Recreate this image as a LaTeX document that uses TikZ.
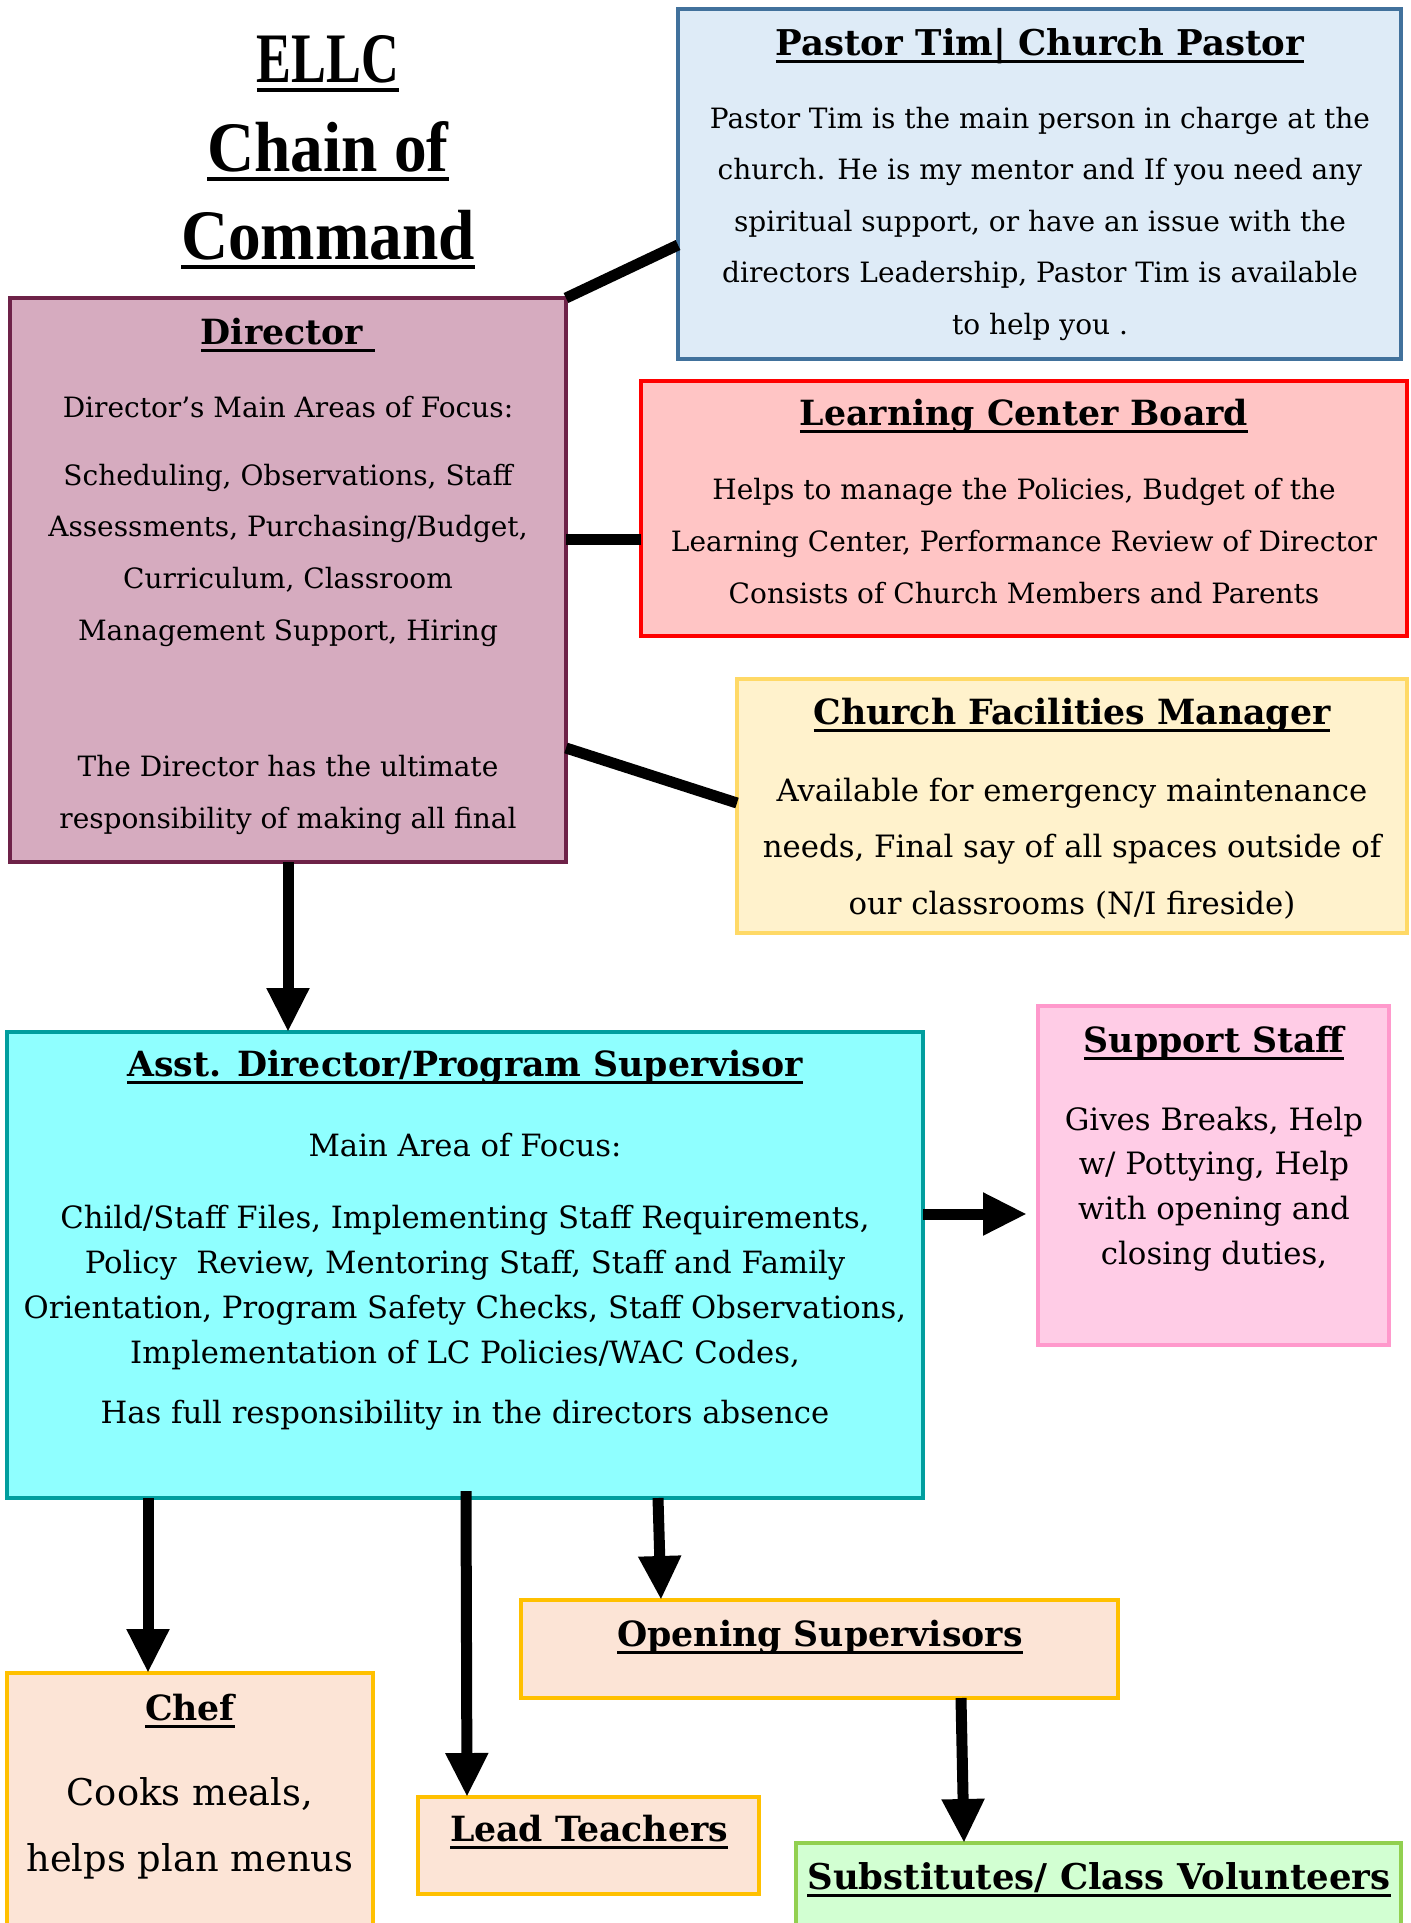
\documentclass[tikz,border=0pt]{standalone}
\usepackage{fontspec}
\setmainfont{DejaVu Serif}
\newfontfamily\titlefont{Liberation Serif Bold}[FakeStretch=0.92]
\usetikzlibrary{arrows.meta,calc}
\definecolor{pastorfill}{HTML}{DEEBF7}
\definecolor{pastorline}{HTML}{41719C}
\definecolor{dirfill}{HTML}{D6ABBF}
\definecolor{dirline}{HTML}{6E2248}
\definecolor{lcbfill}{HTML}{FFC5C5}
\definecolor{lcbline}{HTML}{FF0000}
\definecolor{cfmfill}{HTML}{FFF2CC}
\definecolor{cfmline}{HTML}{FFD966}
\definecolor{asstfill}{HTML}{8FFFFF}
\definecolor{asstline}{HTML}{009E9E}
\definecolor{supfill}{HTML}{FFCCE6}
\definecolor{supline}{HTML}{FF99CC}
\definecolor{peachfill}{HTML}{FCE4D6}
\definecolor{peachline}{HTML}{FFC000}
\definecolor{subfill}{HTML}{D2FFD2}
\definecolor{subline}{HTML}{92D050}
\newsavebox\ulbox
\newcommand\ulh[1]{\sbox\ulbox{#1}\rlap{\usebox\ulbox}\rule[-0.22em]{\wd\ulbox}{0.085em}}
\newcommand\ult[1]{\sbox\ulbox{#1}\rlap{\usebox\ulbox}\rule[-0.14em]{\wd\ulbox}{0.056em}}
\newcommand\blines[6]{\foreach \t [count=\i from 0] in {#6} {\node[txt,#5] (#1\i) at (#2,{#3+\i*#4}) {\t};}}
\begin{document}
\begin{tikzpicture}[x=1pt,y=-1pt,
  box/.style={draw, line width=4.5pt, inner sep=0pt, outer sep=0pt, anchor=north west},
  txt/.style={inner sep=0pt, anchor=base},
  head/.style={font=\bfseries\fontsize{34.7}{40}\selectfont},
  headL/.style={font=\bfseries\fontsize{35.5}{40}\selectfont},
  body/.style={font=\fontsize{28}{34}\selectfont},
  bodyA/.style={font=\fontsize{30.7}{36}\selectfont},
  bodyB/.style={font=\fontsize{30.8}{36}\selectfont},
  bodyC/.style={font=\fontsize{36.8}{42}\selectfont},
  ttl/.style={font=\titlefont\fontsize{71}{80}\selectfont},
  conn/.style={line width=11pt},
  arr/.style={line width=11pt, -{Triangle[length=44pt,width=40pt]}}]
\useasboundingbox (0,0) rectangle (1411,1923);
\clip (0,0) rectangle (1411,1923);
% boxes
\node[box, fill=pastorfill, draw=pastorline, minimum width=723pt, minimum height=350pt] (pastor) at (678,9) {};
\node[box, fill=dirfill, draw=dirline, minimum width=556pt, minimum height=564pt] (dir) at (10,298) {};
\node[box, fill=lcbfill, draw=lcbline, minimum width=766pt, minimum height=255pt] (lcb) at (641,381) {};
\node[box, fill=cfmfill, draw=cfmline, minimum width=670pt, minimum height=254pt] (cfm) at (737,679) {};
\node[box, fill=asstfill, draw=asstline, minimum width=916pt, minimum height=466pt] (asst) at (7,1032) {};
\node[box, fill=supfill, draw=supline, minimum width=351pt, minimum height=339pt] (support) at (1038,1006) {};
\node[box, fill=peachfill, draw=peachline, minimum width=597pt, minimum height=98pt] (opening) at (521,1600) {};
\node[box, fill=peachfill, draw=peachline, minimum width=366pt, minimum height=270pt] (chef) at (7,1673) {};
\node[box, fill=peachfill, draw=peachline, minimum width=341pt, minimum height=97pt] (lead) at (418,1797) {};
\node[box, fill=subfill, draw=subline, minimum width=605pt, minimum height=100pt] (subs) at (796,1843) {};
% title
\node[txt, ttl] (t1) at (328,82) {\ult{\scalebox{0.8}[1]{ELLC}}};
\node[txt, ttl] (t2) at (328,171) {\ult{Chain of}};
\node[txt, ttl] (t3) at (328,259) {\ult{Command}};
% pastor
\node[txt, headL] (pastorh) at (1040,55) {\ulh{Pastor Tim| Church Pastor}};
\blines{pastorl}{1040}{128}{51.5}{body}{{Pastor Tim is the main person in charge at the},{church. He is my mentor and If you need any},{spiritual support, or have an issue with the},{directors Leadership, Pastor Tim is available},{to help you .}}
% director
\node[txt, head] (dirh) at (288,344) {\ulh{Director\ }};
\node[txt, body] (dirl) at (288,417) {Director’s Main Areas of Focus:};
\blines{dira}{288}{485}{51.7}{body}{{Scheduling, Observations, Staff},{Assessments, Purchasing/Budget,},{Curriculum, Classroom},{Management Support, Hiring}}
\blines{dirb}{288}{776}{52}{body}{{The Director has the ultimate},{responsibility of making all final}}
% lcb
\node[txt, head] (lcbh) at (1024,425) {\ulh{Learning Center Board}};
\blines{lcbl}{1024}{499}{52}{body}{{Helps to manage the Policies, Budget of the},{Learning Center, Performance Review of Director},{Consists of Church Members and Parents}}
% cfm
\node[txt, head] (cfmh) at (1072,724) {\ulh{Church Facilities Manager}};
\blines{cfml}{1072}{801}{56.5}{bodyB}{{Available for emergency maintenance},{needs, Final say of all spaces outside of},{our classrooms (N/I fireside)}}
% asst
\node[txt, head] (assth) at (465,1076) {\ulh{Asst. Director/Program Supervisor}};
\node[txt, bodyA] (asstm) at (465,1156) {Main Area of Focus:};
\blines{asstl}{465}{1228}{45}{bodyA}{{Child/Staff Files, Implementing Staff Requirements,},{Policy\ \ Review, Mentoring Staff, Staff and Family},{Orientation, Program Safety Checks, Staff Observations,},{Implementation of LC Policies/WAC Codes,}}
\node[txt, bodyA] (assth2) at (465,1423) {Has full responsibility in the directors absence};
% support
\node[txt, head] (suph) at (1214,1052) {\ulh{Support Staff}};
\blines{supl}{1214}{1130}{44.7}{bodyB}{{Gives Breaks, Help},{w/ Pottying, Help},{with opening and},{closing duties,}}
% bottom boxes
\node[txt, head] (openh) at (820,1646) {\ulh{Opening Supervisors}};
\node[txt, head] (chefh) at (190,1720) {\ulh{Chef}};
\blines{chefl}{190}{1805}{66}{bodyC}{{Cooks meals,},{helps plan menus}}
\node[txt, head] (leadh) at (589,1841) {\ulh{Lead Teachers}};
\node[txt, headL] (subsh) at (1099,1889) {\ulh{Substitutes/ Class Volunteers}};
% connectors
\draw[conn] (dir.north east) -- ($(pastor.north west)+(0,236)$);
\draw[conn] ($(dir.north east)+(0,241)$) -- ($(lcb.north west)+(0,158)$);
\draw[conn] ($(dir.north east)+(0,450)$) -- ($(cfm.north west)+(0,124)$);
\draw[arr] (dir.south) -- (dir.south |- asst.north);
\draw[arr] ($(asst.north east)+(0,182)$) -- ($(support.north west)+(-11,208)$);
\draw[arr] ($(asst.south west)+(141,0)$) -- ($(chef.north west)+(141,0)$);
\draw[arr] ($(asst.south west)+(459,-7)$) -- ($(lead.north west)+(49,0)$);
\draw[arr] ($(asst.south west)+(651,0)$) -- ($(opening.north west)+(140,0)$);
\draw[arr] ($(opening.south west)+(440,0)$) -- ($(subs.north west)+(168,0)$);
\end{tikzpicture}
\end{document}
